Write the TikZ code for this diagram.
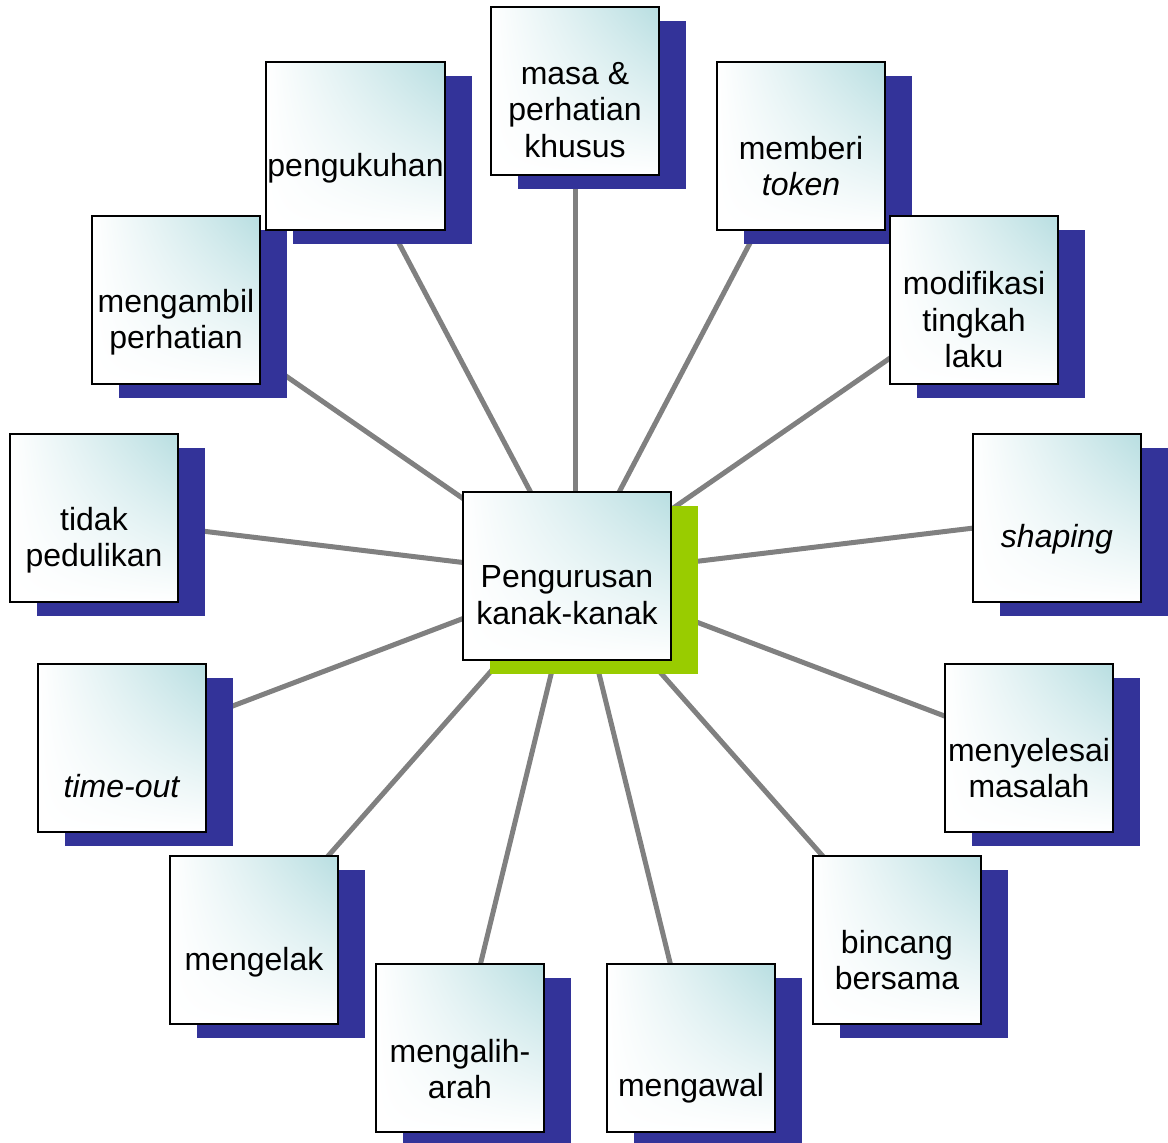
\documentclass[tikz,border=0pt]{standalone}
\usepackage{fontspec}
\setmainfont{Liberation Sans}
\usepackage{tikz}
\usetikzlibrary{shadows,backgrounds,positioning,calc}
\usepackage{xcolor}

\definecolor{cardshadow}{RGB}{51,51,153}
\definecolor{hubshadow}{RGB}{153,204,0}
\definecolor{spokegray}{RGB}{128,128,128}
% white at the left and bottom, teal in the top right corner
\pgfdeclarefunctionalshading{cardglow}{\pgfpoint{-50bp}{-50bp}}{\pgfpoint{50bp}{50bp}}{}{
  50 div 0.5 add
  exch 50 div 0.5 add
  mul
  dup 0.2784 mul 1 exch sub
  exch dup 0.1294 mul 1 exch sub
  exch 0.1176 mul 1 exch sub
}

\begin{document}
\begin{tikzpicture}[x=1pt, y=-1pt,
    card/.style={draw=black, line width=1.5pt, shade, shading=cardglow, minimum width=168pt, minimum height=168pt, inner sep=0pt},
    leaf/.style={card, drop shadow={shadow xshift=27pt, shadow yshift=-14pt, fill=cardshadow, opacity=1}},
    root/.style={card, minimum width=208pt, drop shadow={shadow xshift=27pt, shadow yshift=-14pt, fill=hubshadow, opacity=1}},
    cardtext/.style={align=center, inner sep=0pt, font=\fontsize{32}{36.5}\selectfont},
    spoke/.style={draw=spokegray, line width=5pt}]
    \useasboundingbox (0,0) rectangle (1168,1143);

    % Centre box
    \node[root] (root) at (567,576) {};
    \node[cardtext] (root-t) at ([yshift=-19pt]root.center) {Pengurusan\\kanak-kanak};
    \coordinate (hub) at (575,576);

    % Boxes round the centre, clockwise from the top
    \node[leaf] (masa) at (575,91) {};
    \node[cardtext] (masa-t) at ([yshift=-19pt]masa.center) {masa \&\\perhatian\\khusus};
    \node[leaf] (token) at (801,146) {};
    \node[cardtext] (token-t) at ([yshift=-20pt]token.center) {memberi\\\textit{token}};
    \node[leaf] (modif) at (974,300) {};
    \node[cardtext] (modif-t) at ([yshift=-20pt]modif.center) {modifikasi\\tingkah\\laku};
    \node[leaf] (shaping) at (1057,518) {};
    \node[cardtext] (shaping-t) at ([yshift=-21pt]shaping.center) {\textit{shaping}};
    \node[leaf] (selesai) at (1029,748) {};
    \node[cardtext] (selesai-t) at ([yshift=-20pt]selesai.center) {menyelesai\\masalah};
    \node[leaf] (bincang) at (897,940) {};
    \node[cardtext] (bincang-t) at ([yshift=-20pt]bincang.center) {bincang\\bersama};
    \node[leaf] (kawal) at (691,1048) {};
    \node[cardtext] (kawal-t) at ([yshift=-40pt]kawal.center) {mengawal};
    \node[leaf] (alih) at (460,1048) {};
    \node[cardtext] (alih-t) at ([yshift=-21pt]alih.center) {mengalih-\\arah};
    \node[leaf] (elak) at (254,940) {};
    \node[cardtext] (elak-t) at ([yshift=-22pt]elak.center) {mengelak};
    \node[leaf] (timeout) at (122,748) {};
    \node[cardtext] (timeout-t) at ([yshift=-38pt]timeout.center) {\textit{time-out}};
    \node[leaf] (abai) at (94,518) {};
    \node[cardtext] (abai-t) at ([yshift=-22pt]abai.center) {tidak\\pedulikan};
    \node[leaf] (ambil) at (176,300) {};
    \node[cardtext] (ambil-t) at ([yshift=-22pt]ambil.center) {mengambil\\perhatian};
    \node[leaf, minimum width=179pt] (kukuh) at (355.5,146) {};
    \node[cardtext] (kukuh-t) at ([yshift=-22pt]kukuh.center) {pengukuhan};

    % Spokes behind everything
    \begin{scope}[on background layer]
        \draw[spoke] (hub) -- (masa.center);
        \draw[spoke] (hub) -- (token.center);
        \draw[spoke] (hub) -- (modif.center);
        \draw[spoke] (hub) -- (shaping.center);
        \draw[spoke] (hub) -- (selesai.center);
        \draw[spoke] (hub) -- (bincang.center);
        \draw[spoke] (hub) -- (kawal.center);
        \draw[spoke] (hub) -- (alih.center);
        \draw[spoke] (hub) -- (elak.center);
        \draw[spoke] (hub) -- (timeout.center);
        \draw[spoke] (hub) -- (abai.center);
        \draw[spoke] (hub) -- (ambil.center);
        \draw[spoke] (hub) -- ([xshift=-8pt]kukuh.center);
    \end{scope}
\end{tikzpicture}
\end{document}
